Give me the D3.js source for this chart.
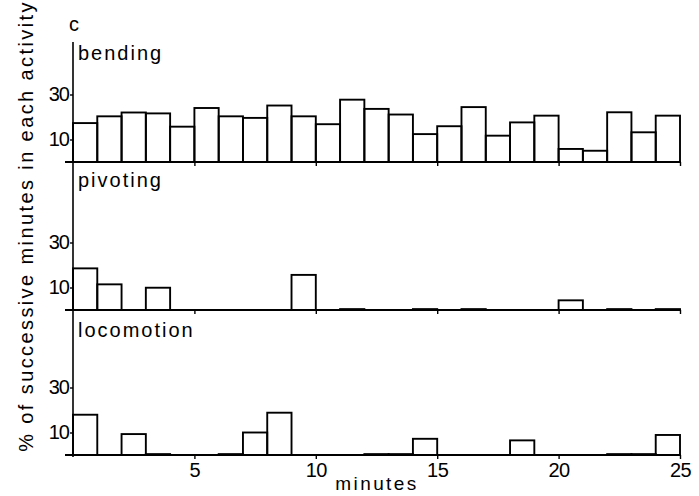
<!DOCTYPE html>
<html>
<head>
<meta charset="utf-8">
<script src="https://cdn.jsdelivr.net/npm/d3@7"></script>
<style>
  html, body { margin: 0; padding: 0; background: #fff; }
  svg { display: block; }
  text { font-family: "Liberation Sans", Arial, sans-serif; fill: #000; }
</style>
</head>
<body>
<svg id="chart" width="699" height="496"></svg>
<script>
// ---- data ----
const minutes = d3.range(25); // start minute of each 1-minute bin
const panelNames = ["bending", "pivoting", "locomotion"];
const bendingValues = [17.3, 20.3, 22.0, 21.6, 15.7, 24.0, 20.3, 19.6, 25.1, 20.3, 16.8, 27.7, 23.6, 21.1, 12.4, 15.9, 24.4, 11.7, 17.6, 20.6, 5.8, 5.0, 22.1, 13.2, 20.6];
const pivotingValues = [18.5, 11.4, 0, 9.9, 0, 0, 0, 0, 0, 15.6, 0, 0.4, 0, 0, 0.4, 0, 0.4, 0, 0, 0, 4.3, 0, 0.4, 0, 0.4];
const locomotionValues = [17.9, 0, 9.3, 0.4, 0, 0, 0.4, 10.0, 18.8, 0, 0, 0, 0.4, 0.4, 7.2, 0, 0, 0, 6.5, 0, 0, 0, 0.4, 0.4, 8.9];
const xTicks = [5, 10, 15, 20, 25];
const yTicks = [10, 30];
const panelLetter = "c";
const xTitle = "minutes";
const yTitle = "% of successive minutes in each activity";

// ---- layout ----
const svg = d3.select("#chart");
const x = d3.scaleLinear().domain([0, 25]).range([73, 680]);
const baselines = [162, 310, 455];
const labelY = [53, 180, 330];
const pxPerUnit = 2.25;
const series = [bendingValues, pivotingValues, locomotionValues];

// vertical axis line through all panels
svg.append("line")
  .attr("x1", x(0)).attr("x2", x(0))
  .attr("y1", 42).attr("y2", baselines[2] + 2)
  .attr("stroke", "#000").attr("stroke-width", 1.6);

series.forEach((vals, i) => {
  const b = baselines[i];
  const y = d3.scaleLinear().domain([0, 60]).range([b, b - 60 * pxPerUnit]);
  const g = svg.append("g");

  // bars
  g.selectAll("rect")
    .data(minutes.filter(m => vals[m] > 0))
    .join("rect")
    .attr("x", m => x(m))
    .attr("width", m => x(m + 1) - x(m))
    .attr("y", m => y(vals[m]))
    .attr("height", m => y(0) - y(vals[m]))
    .attr("fill", "none")
    .attr("stroke", "#000")
    .attr("stroke-width", 1.9);

  // baseline
  g.append("line")
    .attr("x1", x(0) - 8).attr("x2", x(25) + 1)
    .attr("y1", b).attr("y2", b)
    .attr("stroke", "#000").attr("stroke-width", 1.8);

  // x ticks
  const ax = d3.axisBottom(x).tickValues(xTicks).tickSize(4).tickPadding(1)
    .tickFormat(i === 2 ? d3.format("d") : () => "");
  const axg = g.append("g").attr("transform", `translate(0,${b})`).call(ax);
  axg.select(".domain").remove();
  axg.selectAll(".tick line").attr("stroke", "#000").attr("stroke-width", 1.4);
  axg.selectAll(".tick text")
    .style("font-family", '"Liberation Sans", Arial, sans-serif')
    .style("font-size", "20px").attr("fill", "#000").attr("dy", "0.85em")
    .style("letter-spacing", "-0.5px");

  // y ticks
  const ay = d3.axisLeft(y).tickValues(yTicks).tickSize(3).tickPadding(1);
  const ayg = g.append("g").attr("transform", `translate(${x(0)},0)`).call(ay);
  ayg.select(".domain").remove();
  ayg.selectAll(".tick line").attr("stroke", "#000").attr("stroke-width", 1.4);
  ayg.selectAll(".tick text")
    .style("font-family", '"Liberation Sans", Arial, sans-serif')
    .style("font-size", "20px").attr("fill", "#000").style("letter-spacing", "-1px");

  // panel label
  g.append("text")
    .attr("x", x(0) + 5).attr("y", labelY[i])
    .attr("dy", "0.35em")
    .style("font-size", "20px").style("letter-spacing", "2px")
    .text(panelNames[i]);
});

// panel letter
svg.append("text").attr("x", 69).attr("y", 31)
  .style("font-size", "20px").text(panelLetter);

// x title
svg.append("text").attr("x", 377).attr("y", 490)
  .attr("text-anchor", "middle")
  .style("font-size", "19px").style("letter-spacing", "2.4px")
  .text(xTitle);

// y title
svg.append("text")
  .attr("transform", "translate(33,226) rotate(-90)")
  .attr("text-anchor", "middle")
  .style("font-size", "20px").style("letter-spacing", "2.4px")
  .text(yTitle);
</script>
</body>
</html>
